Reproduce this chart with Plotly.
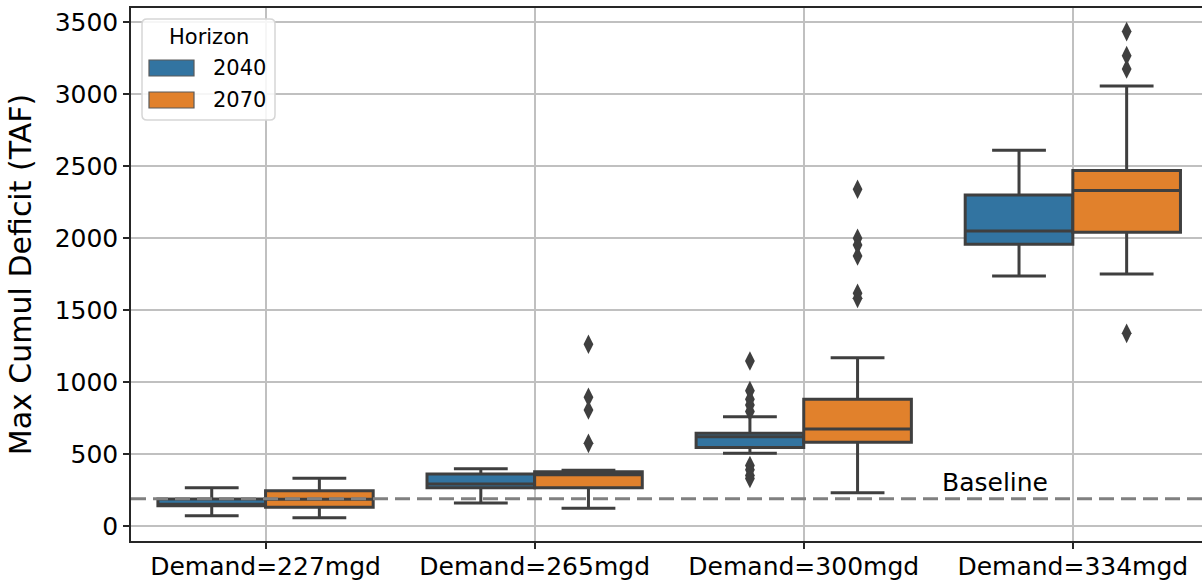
import plotly.graph_objects as go

# Demand scenarios on the x axis
DEMANDS = ["Demand=227mgd", "Demand=265mgd", "Demand=300mgd", "Demand=334mgd"]
HORIZONS = ["2040", "2070"]

# Box statistics (TAF) per demand scenario
q1_2040 = [140, 266, 546, 1956]
median_2040 = [152, 292, 620, 2049]
q3_2040 = [188, 361, 644, 2299]
lower_2040 = [72, 160, 505, 1736]
upper_2040 = [266, 398, 759, 2609]
outliers_2040 = [[], [], [1146, 940, 880, 840, 795, 420, 390, 350, 330], []]

q1_2070 = [130, 266, 581, 2040]
median_2070 = [186, 356, 674, 2329]
q3_2070 = [245, 377, 880, 2468]
lower_2070 = [58, 123, 231, 1750]
upper_2070 = [331, 387, 1169, 3056]
outliers_2070 = [[], [1262, 894, 806, 574], [2338, 1998, 1951, 1875, 1616, 1581],
                 [3433, 3266, 3174, 1338]]

BASELINE = 190

COLORS = {"2040": "#3274a1", "2070": "#e1812c"}
EDGE = "#3f3f3f"
OFFSETS = {"2040": -0.2, "2070": 0.2}
FONT = "DejaVu Sans"

W, H = 1202, 583
ML, MR, MT, MB = 131, 0, 8, 42

stats = {
    "2040": (q1_2040, median_2040, q3_2040, lower_2040, upper_2040, outliers_2040),
    "2070": (q1_2070, median_2070, q3_2070, lower_2070, upper_2070, outliers_2070),
}


def px(xp, yp):
    """Pixel position within the figure -> paper coordinates."""
    return (xp - ML) / (W - ML - MR), (H - MB - yp) / (H - MT - MB)


fig = go.Figure()
for h in HORIZONS:
    q1, med, q3, lo, hi, outs = stats[h]
    xs = [i + OFFSETS[h] for i in range(len(DEMANDS))]
    fig.add_trace(go.Box(
        name=h, x=xs, q1=q1, median=med, q3=q3, lowerfence=lo, upperfence=hi,
        width=0.4, whiskerwidth=0.5, fillcolor=COLORS[h],
        line=dict(color=EDGE, width=3), boxpoints=False, showlegend=False,
    ))
    ox, oy = [], []
    for i, vals in enumerate(outs):
        for v in vals:
            ox.append(i + OFFSETS[h])
            oy.append(v)
    fig.add_trace(go.Scatter(
        x=ox, y=oy, mode="markers", showlegend=False,
        marker=dict(symbol="diamond-tall", size=14, color=EDGE),
    ))

# Baseline reference
fig.add_shape(type="line", xref="paper", x0=0, x1=1, yref="y", y0=BASELINE, y1=BASELINE,
              line=dict(color="#808080", width=3, dash="15px,7px"), layer="above")
fig.add_annotation(x=2.71, y=BASELINE, xref="x", yref="y", text="Baseline", showarrow=False,
                   xanchor="center", yanchor="bottom", yshift=0,
                   font=dict(family=FONT, size=25, color="black"))

# Legend panel
x0, y0 = px(142, 19)
x1, y1 = px(275, 120)
r = 5
rx, ry = r / (W - ML - MR), r / (H - MT - MB)
path = (f"M{x0+rx},{y0} L{x1-rx},{y0} Q{x1},{y0} {x1},{y0-ry} "
        f"L{x1},{y1+ry} Q{x1},{y1} {x1-rx},{y1} L{x0+rx},{y1} Q{x0},{y1} {x0},{y1+ry} "
        f"L{x0},{y0-ry} Q{x0},{y0} {x0+rx},{y0} Z")
fig.add_shape(type="path", path=path, xref="paper", yref="paper",
              fillcolor="rgba(255,255,255,0.85)", line=dict(color="#d6d6d6", width=1.5), layer="above")
tx, ty = px(208.5, 37)
fig.add_annotation(x=tx, y=ty, xref="paper", yref="paper", text="Horizon", showarrow=False,
                   xanchor="center", yanchor="middle", font=dict(family=FONT, size=21, color="black"))
for h, yc in zip(HORIZONS, [68, 100]):
    a0, b0 = px(149, yc - 8)
    a1, b1 = px(194, yc + 8)
    fig.add_shape(type="rect", xref="paper", yref="paper", x0=a0, x1=a1, y0=b0, y1=b1,
                  fillcolor=COLORS[h], line=dict(color="#5a5a5a", width=1.2), layer="above")
    lx, ly = px(211, yc)
    fig.add_annotation(x=lx, y=ly, xref="paper", yref="paper", text=h, showarrow=False,
                       xanchor="left", yanchor="middle", font=dict(family=FONT, size=21, color="black"))

fig.update_layout(
    width=W, height=H,
    margin=dict(l=ML, r=MR, t=MT, b=MB, autoexpand=False),
    plot_bgcolor="white", paper_bgcolor="white",
    boxmode="overlay", showlegend=False,
    font=dict(family=FONT, color="black"),
    xaxis=dict(
        range=[-0.5, 3.48], tickmode="array", tickvals=list(range(len(DEMANDS))), ticktext=DEMANDS,
        showgrid=True, gridcolor="#c0c0c0", gridwidth=1.5, zeroline=False,
        showline=True, linecolor="#262626", linewidth=1.5, mirror=True,
        ticks="outside", ticklen=6, tickwidth=1.5, tickcolor="#262626",
        tickfont=dict(size=25, family=FONT), automargin=False, ticklabelstandoff=-4,
    ),
    yaxis=dict(
        range=[-104, 3597], tickmode="linear", tick0=0, dtick=500,
        showgrid=True, gridcolor="#c0c0c0", gridwidth=1.5, zeroline=False,
        showline=True, linecolor="#262626", linewidth=1.5,
        ticks="outside", ticklen=6, tickwidth=1.5, tickcolor="#262626",
        tickfont=dict(size=25, family=FONT), automargin=False,
        title=dict(text="Max Cumul Deficit (TAF)", font=dict(size=30, family=FONT), standoff=14),
    ),
)

fig.write_html("out.html")
